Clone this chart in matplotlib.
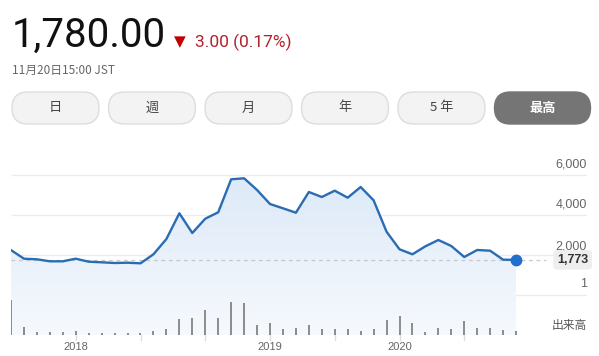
import numpy as np
import matplotlib
matplotlib.use("Agg")
import matplotlib.pyplot as plt
from matplotlib.patches import FancyBboxPatch, Polygon

plt.rcParams['font.family'] = ['Liberation Sans', 'Noto Sans CJK JP', 'DejaVu Sans']

# ---------------- data ----------------
price = [2260, 1830, 1800, 1700, 1700, 1830, 1680, 1650, 1615, 1630,
         1600, 2050, 2815, 4100, 3115, 3830, 4150, 5800, 5850, 5265,
         4565, 4350, 4130, 5165, 4915, 5230, 4880, 5415, 4750, 3180,
         2300, 2050, 2450, 2765, 2465, 1915, 2265, 2230, 1780, 1773]
volume = [35, 8, 3.5, 3.5, 3, 4.5, 2.5, 2.5, 2.5, 2,
          2.5, 4.5, 6, 16.5, 17.5, 25.5, 17, 33.5, 32, 10,
          12, 6, 7, 10, 6, 6, 6.5, 4.5, 6.5, 15,
          19.5, 12, 3, 7.5, 6.5, 14, 7.5, 7.5, 5.5, 4]
year_labels = ["2018", "2019", "2020"]
year_pos = [5, 20, 30]
quarter_ticks = [5, 10, 15, 20, 25, 30, 35]
price_ticks = [0, 2000, 4000, 6000]
price_tick_labels = ["1", "2,000", "4,000", "6,000"]
last_price = 1773
buttons = ["日", "週", "月", "年", "5 年", "最高"]

W, H = 599, 356
fig = plt.figure(figsize=(W / 100, H / 100), dpi=100)
fig.patch.set_facecolor("white")

# pixel-space overlay for header & buttons
bg = fig.add_axes([0, 0, 1, 1])
bg.set_xlim(0, W)
bg.set_ylim(H, 0)
bg.axis("off")

bg.text(12, 47, "1,780.00", fontsize=29, color="#111111", family=["Roboto", "DejaVu Sans"],
        ha="left", va="baseline")
bg.text(174, 46, "▼", fontsize=11, color="#c00000", family=["DejaVu Sans"], ha="left", va="baseline")
bg.text(195, 47, "3.00 (0.17%)", fontsize=12.5, color="#b3222b", family=["Roboto", "DejaVu Sans"],
        ha="left", va="baseline")
bg.text(12, 74, "11月20日15:00 JST", fontsize=8.5, color="#666666",
        family=["Noto Sans CJK JP", "DejaVu Sans"], ha="left", va="baseline")

bx0, bw, bgap, by0, bh = 12, 87, 9.5, 92, 32
for i, lab in enumerate(buttons):
    x = bx0 + i * (bw + bgap)
    w = bw if i < 5 else 96
    sel = (i == 5)
    p = FancyBboxPatch((x, by0), w, bh,
                       boxstyle=f"round,pad=0,rounding_size={bh/2}",
                       facecolor="#757575" if sel else "#f3f3f3",
                       edgecolor="#757575" if sel else "#dddddd", lw=1)
    bg.add_patch(p)
    bg.text(x + w / 2, by0 + bh / 2, lab, fontsize=9.5,
            color="white" if sel else "#444444",
            fontweight="bold" if sel else "normal",
            family=["Noto Sans CJK JP", "DejaVu Sans"], ha="center", va="center")

# ---------------- chart ----------------
px_per_idx = 12.95
x_left, x_right = 11, 587
y_top, y_bot = 150, 335
zero_y = 295.3
per_px = 50.0
ax = fig.add_axes([x_left / W, 1 - y_bot / H, (x_right - x_left) / W, (y_bot - y_top) / H])
ax.set_xlim(0, (x_right - x_left) / px_per_idx)
ylo = -(y_bot - zero_y) * per_px
yhi = (zero_y - y_top) * per_px
ax.set_ylim(ylo, yhi)
ax.axis("off")
ax.patch.set_alpha(0)

x = np.arange(len(price))
xr = ax.get_xlim()[1]

# gridlines
for t in price_ticks:
    ax.plot([0, xr], [t, t], color="#ebebeb", lw=1, zorder=1, solid_capstyle="butt")

# gradient fill under line
verts = list(zip(x, price)) + [(x[-1], ylo), (x[0], ylo)]
poly = Polygon(verts, closed=True, facecolor="none", edgecolor="none")
ax.add_patch(poly)
grad = np.linspace(0, 1, 256).reshape(-1, 1)
top_c = np.array([0xdc, 0xe9, 0xf8]) / 255
bot_c = np.array([0xf6, 0xf9, 0xfd]) / 255
img = top_c[None, None, :] * (1 - grad[:, :, None]) + bot_c[None, None, :] * grad[:, :, None]
im = ax.imshow(img, extent=[0, x[-1], ylo, 6200], origin="upper", aspect="auto", zorder=2)
im.set_clip_path(poly)
ax.set_xlim(0, xr)
ax.set_ylim(ylo, yhi)

# dashed last price line
ax.plot([0, (546 - x_left) / px_per_idx], [last_price, last_price], color="#c8c8c8",
        lw=0.9, ls=(0, (3, 3)), zorder=3)

# price line & last point
ax.plot(x, price, color="#2a6cb4", lw=1.7, zorder=5, solid_joinstyle="round")
ax.plot([x[-1]], [price[-1]], "o", color="#1f6fcf", ms=7.5, zorder=6)

# right axis labels
offsets = {0: 250, 2000: 150, 4000: 250, 6000: 250}
for t, lab in zip(price_ticks, price_tick_labels):
    ax.text(xr, t + offsets[t], lab, fontsize=9, color="#666666", ha="right", va="bottom")
ax.text(xr + 0.1, last_price, f"{last_price:,}", fontsize=9, color="#333333",
        fontweight="bold", ha="right", va="center", zorder=7,
        bbox=dict(boxstyle="round,pad=0.3,rounding_size=0.3", fc="#eeeeee", ec="none"))

# volume
axv = ax.twinx()
axv.set_position(ax.get_position())
axv.set_ylim(0, y_bot - y_top)
axv.axis("off")
axv.bar(x, volume, width=2 / px_per_idx, color="#8e8e8e", zorder=4)
axv.text(xr, 10, "出来高", fontsize=8.5, color="#555555", ha="right", va="center",
         family=["Noto Sans CJK JP", "DejaVu Sans"])

# quarter tick marks and year labels
for q in quarter_ticks:
    bg.plot([x_left + q * px_per_idx] * 2, [335, 340], color="#dddddd", lw=1)
for xp, lab in zip(year_pos, year_labels):
    bg.text(x_left + xp * px_per_idx, 347, lab, fontsize=8, color="#666666",
            ha="center", va="center")

fig.savefig("out.png", dpi=100)
